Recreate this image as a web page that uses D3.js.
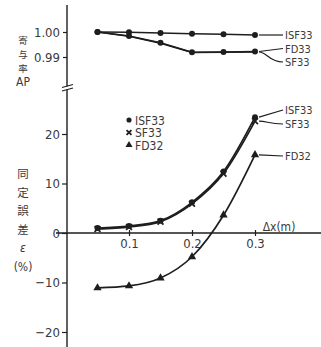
<!DOCTYPE html>
<html>
<head>
<meta charset="utf-8">
<script src="https://cdn.jsdelivr.net/npm/d3@7"></script>
<style>
  body { margin: 0; background: #fff; }
  svg text { font-family: "Liberation Sans Narrow", "DejaVu Sans Condensed", "DejaVu Sans", sans-serif; font-stretch: condensed; fill: #3a3a3a; }
  svg text.jp { font-family: "Noto Sans CJK JP", sans-serif; font-stretch: normal; }
</style>
</head>
<body>
<div id="chart"></div>
<script>
var dx = [0.05, 0.1, 0.15, 0.2, 0.25, 0.3];

// upper panel: contribution ratio AP
var apISF33 = [1.000, 0.9999, 0.9996, 0.9993, 0.9991, 0.9988];
var apFD33 = [1.000, 0.9984, 0.9957, 0.9919, 0.9920, 0.9922];
var apSF33 = [1.000, 0.9983, 0.9955, 0.9918, 0.9919, 0.9920];

// lower panel: identification error (%)
var errISF33 = [1.0, 1.4, 2.5, 6.2, 12.4, 23.4];
var errSF33 = [0.8, 1.2, 2.3, 5.9, 12.0, 22.6];
var errFD32 = [-11.1, -10.7, -9.1, -4.8, 3.6, 15.8];

var xTicks = [0.1, 0.2, 0.3];
var apTicks = [0.99, 1.00];
var errTicks = [-20, -10, 0, 10, 20];

var width = 321, height = 347;
var ink = '#1e1e1e';

var svg = d3.select('#chart').append('svg')
    .attr('width', width)
    .attr('height', height);

var x = d3.scaleLinear().domain([0, 0.3]).range([66, 255]);
var yAP = d3.scaleLinear().domain([0.99, 1.00]).range([57, 32]);
var yErr = d3.scaleLinear().domain([-20, 20]).range([332, 134]);

/* vertical axis line with break */
svg.append('line')
    .attr('x1', 67).attr('x2', 67)
    .attr('y1', 5).attr('y2', height)
    .attr('stroke', ink).attr('stroke-width', 1.4);

svg.append('rect').attr('x', 62).attr('y', 86.5).attr('width', 10).attr('height', 3).attr('fill', '#fff');
[86, 89.5].forEach(function(yy) {
    svg.append('line')
        .attr('x1', 62).attr('x2', 73)
        .attr('y1', yy + 1.5).attr('y2', yy - 1.5)
        .attr('stroke', ink).attr('stroke-width', 1.1);
});

/* y axes */
var apAxis = svg.append('g')
    .attr('transform', 'translate(67,0)')
    .call(d3.axisLeft(yAP).tickValues(apTicks).tickSize(4).tickFormat(d3.format('.2f')));
var errAxis = svg.append('g')
    .attr('transform', 'translate(67,0)')
    .call(d3.axisLeft(yErr).tickValues(errTicks).tickSize(5).tickFormat(function(d) {
        return d < 0 ? '\u2212' + Math.abs(d) : d;
    }));

[apAxis, errAxis].forEach(function(g) {
    g.select('.domain').remove();
    g.selectAll('line').attr('stroke', ink).attr('stroke-width', 1.2);
    g.selectAll('text').attr('font-size', 13).attr('x', -7).attr('font-family', null).style('fill', '#3a3a3a');
});

/* x axis */
svg.append('line')
    .attr('x1', 56).attr('x2', width)
    .attr('y1', yErr(0)).attr('y2', yErr(0))
    .attr('stroke', ink).attr('stroke-width', 1.4);

var xAxis = svg.append('g')
    .attr('transform', 'translate(0,' + yErr(0) + ')')
    .call(d3.axisBottom(x).tickValues(xTicks).tickSize(3).tickFormat(d3.format('.1f')));
xAxis.select('.domain').remove();
xAxis.selectAll('line').attr('y1', -3).attr('stroke', ink).attr('stroke-width', 1.2);
xAxis.selectAll('text').attr('font-size', 13).attr('y', 6).attr('font-family', null).style('fill', '#3a3a3a');

svg.append('text')
    .attr('x', 279).attr('y', 231)
    .attr('text-anchor', 'middle')
    .attr('font-size', 12)
    .text('\u0394x(m)');

/* left titles */
var apTitle = ['寄', '与', '率'];
apTitle.forEach(function(c, i) {
    svg.append('text').attr('class', 'jp')
        .attr('x', 23).attr('y', 44 + i * 14)
        .attr('text-anchor', 'middle').attr('font-size', 9.5)
        .text(c);
});
svg.append('text')
    .attr('x', 23).attr('y', 86)
    .attr('text-anchor', 'middle').attr('font-size', 12)
    .text('AP');

var errTitle = ['同', '定', '誤', '差'];
errTitle.forEach(function(c, i) {
    svg.append('text').attr('class', 'jp')
        .attr('x', 23).attr('y', 178 + i * 18.5)
        .attr('text-anchor', 'middle').attr('font-size', 11.5)
        .text(c);
});
svg.append('text')
    .attr('x', 23).attr('y', 252)
    .attr('text-anchor', 'middle').attr('font-size', 12).attr('font-style', 'italic')
    .text('\u03b5');
svg.append('text')
    .attr('x', 23).attr('y', 271)
    .attr('text-anchor', 'middle').attr('font-size', 12)
    .text('(%)');

/* series drawing */
var drawLine = function(vals, yScale, curve) {
    var line = d3.line()
        .x(function(d, i) { return x(dx[i]); })
        .y(function(d) { return yScale(d); })
        .curve(curve);
    svg.append('path')
        .datum(vals)
        .attr('d', line)
        .attr('fill', 'none')
        .attr('stroke', ink)
        .attr('stroke-width', 1.7);
};

var marker = function(g, type, cx, cy, s) {
    if (type === 'circle') {
        g.append('circle').attr('cx', cx).attr('cy', cy).attr('r', 3 * s).attr('fill', ink);
    } else if (type === 'tri') {
        g.append('path')
            .attr('d', d3.symbol().type(d3.symbolTriangle).size(30 * s * s)())
            .attr('transform', 'translate(' + cx + ',' + cy + ')')
            .attr('fill', ink);
    } else {
        g.append('path')
            .attr('d', d3.symbol().type(d3.symbolTimes).size(24 * s * s)())
            .attr('transform', 'translate(' + cx + ',' + cy + ')')
            .attr('fill', 'none')
            .attr('stroke', ink)
            .attr('stroke-width', 1.8);
    }
};

var drawMarkers = function(vals, yScale, type) {
    var g = svg.append('g');
    vals.forEach(function(v, i) {
        marker(g, type, x(dx[i]), yScale(v), 1);
    });
};

drawLine(apISF33, yAP, d3.curveLinear);
drawLine(apFD33, yAP, d3.curveLinear);
drawLine(apSF33, yAP, d3.curveLinear);
drawMarkers(apISF33, yAP, 'circle');
drawMarkers(apFD33, yAP, 'circle');

drawLine(errISF33, yErr, d3.curveMonotoneX);
drawLine(errSF33, yErr, d3.curveMonotoneX);
drawLine(errFD32, yErr, d3.curveMonotoneX);
drawMarkers(errISF33, yErr, 'circle');
drawMarkers(errSF33, yErr, 'times');
drawMarkers(errFD32, yErr, 'tri');

/* series labels with leader lines */
var last = dx.length - 1;
var xe = x(dx[last]);
var labels = [
    { name: 'ISF33', y0: yAP(apISF33[last]), y1: 35, ty: 39, curve: false },
    { name: 'FD33', y0: yAP(apFD33[last]), y1: 48.5, ty: 52.5, curve: false },
    { name: 'SF33', y0: yAP(apSF33[last]), y1: 62, ty: 66, curve: true },
    { name: 'ISF33', y0: yErr(errISF33[last]), y1: 110, ty: 114, curve: false },
    { name: 'SF33', y0: yErr(errSF33[last]), y1: 124, ty: 128, curve: true },
    { name: 'FD32', y0: yErr(errFD32[last]), y1: 156, ty: 160, curve: false }
];
labels.forEach(function(l) {
    var p = d3.path();
    p.moveTo(xe + 4, l.y0);
    if (l.curve) {
        p.bezierCurveTo(xe + 12, l.y0, xe + 14, l.y1, xe + 28, l.y1);
    } else {
        p.lineTo(xe + 28, l.y1);
    }
    svg.append('path').attr('d', p.toString())
        .attr('fill', 'none').attr('stroke', ink).attr('stroke-width', 1.2);
    svg.append('text')
        .attr('x', xe + 30).attr('y', l.ty)
        .attr('font-size', 11)
        .text(l.name);
});

/* legend */
var legendItems = [
    { name: 'ISF33', type: 'circle' },
    { name: 'SF33', type: 'times' },
    { name: 'FD32', type: 'tri' }
];
legendItems.forEach(function(d, i) {
    var ly = 120 + i * 12.5;
    marker(svg, d.type, 129, ly, 0.85);
    svg.append('text')
        .attr('x', 135).attr('y', ly + 4.5)
        .attr('font-size', 12)
        .text(d.name);
});
</script>
</body>
</html>
